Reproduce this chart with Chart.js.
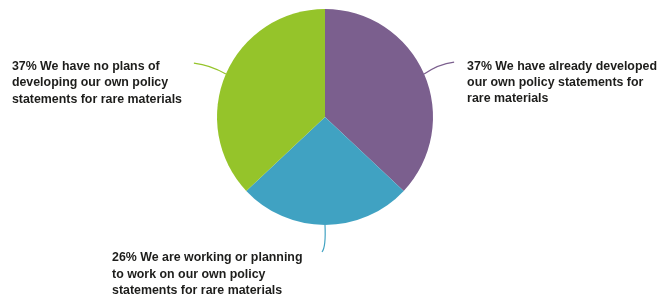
<!DOCTYPE html>
<html>
<head>
<meta charset="utf-8">
<script src="https://cdn.jsdelivr.net/npm/chart.js@4"></script>
<style>
  html, body { margin: 0; padding: 0; background: #fff; }
  #wrap { width: 659px; height: 299px; position: relative; }
</style>
</head>
<body>
<div id="wrap"><canvas id="pieChart"></canvas></div>
<script>
// Share of respondents by policy statement status
const categories = [
    ['37% We have already developed', 'our own policy statements for', 'rare materials'],
    ['26% We are working or planning', 'to work on our own policy', 'statements for rare materials'],
    ['37% We have no plans of', 'developing our own policy', 'statements for rare materials']
];
const shares = [37, 26, 37];
const sliceColors = ['#7b5f8e', '#40a2c2', '#95c42a'];

// Leader lines + multi-line labels
const calloutPlugin = {
    id: 'callouts',
    afterDatasetsDraw(chart) {
        const ctx = chart.ctx;
        const arcs = chart.getDatasetMeta(0).data;
        // line end offsets and text anchors per slice (relative to leader end)
        const layout = [
            { dx: 30, dy: -12, cx: 14, cy: -10, tx: 13, ty: 4, align: 'left' },
            { dx: -3, dy: 27, cx: 1, cy: 22, tx: -210, ty: 6, align: 'left' },
            { dx: -32, dy: -11, cx: -15, cy: -9, tx: -182, ty: 3.5, align: 'left' }
        ];
        ctx.save();
        ctx.font = 'bold 12.4px "Liberation Sans", Arial, sans-serif';
        ctx.textBaseline = 'middle';
        arcs.forEach((arc, i) => {
            const mid = (arc.startAngle + arc.endAngle) / 2;
            const sx = arc.x + Math.cos(mid) * arc.outerRadius;
            const sy = arc.y + Math.sin(mid) * arc.outerRadius;
            const l = layout[i];
            const ex = sx + l.dx, ey = sy + l.dy;
            ctx.strokeStyle = sliceColors[i];
            ctx.lineWidth = 1.2;
            ctx.beginPath();
            ctx.moveTo(sx, sy);
            ctx.quadraticCurveTo(sx + l.cx, sy + l.cy, ex, ey);
            ctx.stroke();

            ctx.fillStyle = '#1d1d1b';
            ctx.textAlign = l.align;
            categories[i].forEach((line, j) => {
                ctx.fillText(line, ex + l.tx, ey + l.ty + j * 16.3);
            });
        });
        ctx.restore();
    }
};

const pieCtx = document.getElementById('pieChart').getContext('2d');
new Chart(pieCtx, {
    type: 'pie',
    data: {
        labels: categories.map(c => c.join(' ')),
        datasets: [{
            data: shares,
            backgroundColor: sliceColors,
            borderWidth: 0
        }]
    },
    options: {
        responsive: true,
        maintainAspectRatio: false,
        animation: false,
        layout: {
            padding: { top: 9, bottom: 74, left: 0, right: 9 }
        },
        plugins: {
            legend: { display: false },
            tooltip: { enabled: false }
        }
    },
    plugins: [calloutPlugin]
});
</script>
</body>
</html>
